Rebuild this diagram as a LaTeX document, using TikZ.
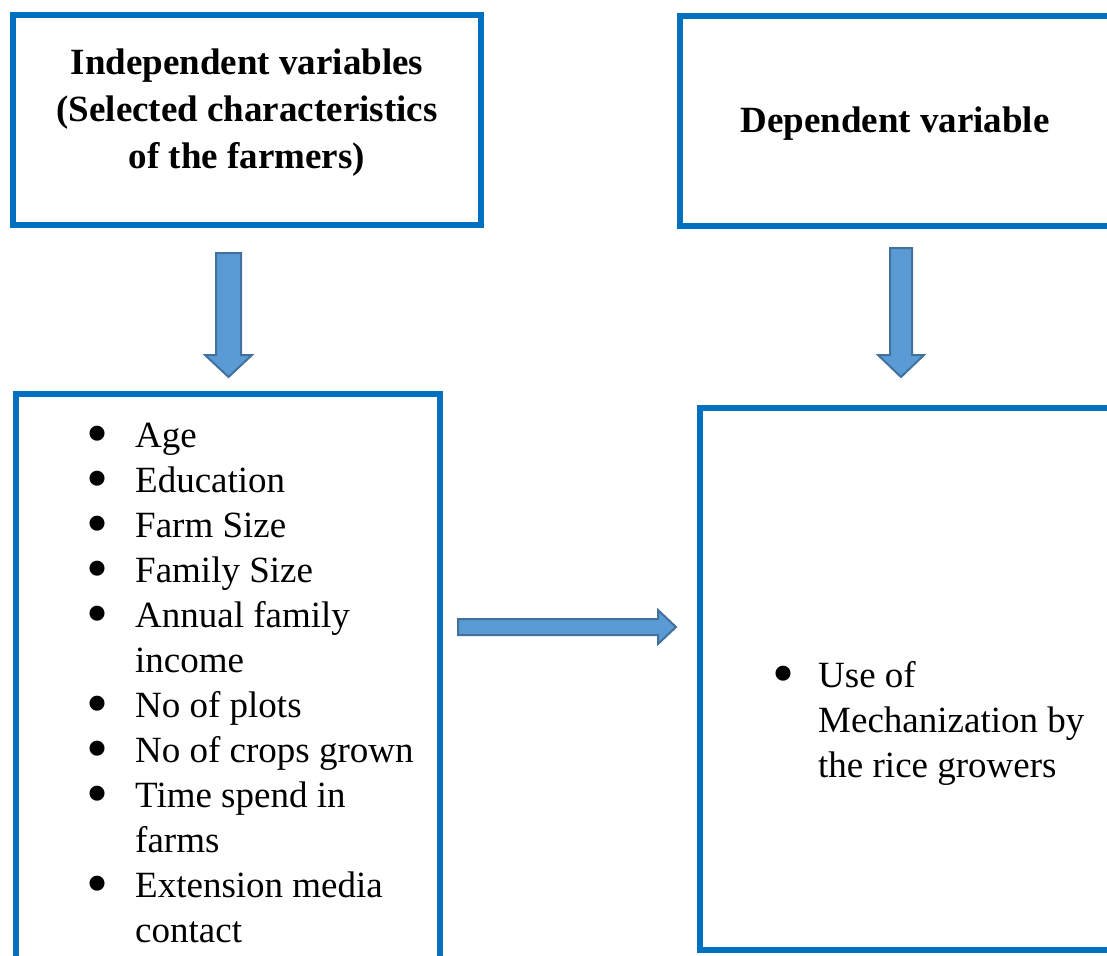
\documentclass[tikz,border=0pt]{standalone}
\usepackage{fontspec}
\setmainfont{Liberation Serif}
\usepackage{graphicx}
\usetikzlibrary{positioning}
\definecolor{boxblue}{HTML}{0070C0}
\definecolor{arrowfill}{HTML}{5B9BD5}
\definecolor{arrowline}{HTML}{41719C}
\newcommand{\listdot}{\smash{\raisebox{-0.2em}{\scalebox{1.7}{\textbullet}}}}
\begin{document}
\begin{tikzpicture}[x=1pt,y=-1pt,line join=miter,
	varbox/.style={draw=boxblue,line width=6pt,inner sep=0pt},
	headtext/.style={font=\fontsize{37}{47}\selectfont\bfseries,align=center,inner sep=0pt},
	listtext/.style={font=\fontsize{37}{45}\selectfont,inner sep=0pt,anchor=base west},
	blockarrow/.style={fill=arrowfill,draw=arrowline,line width=2pt}]
	\useasboundingbox (0,0) rectangle (1107,955);
	\clip (0,0) rectangle (1107,955);
	\node[varbox,minimum width=468pt,minimum height=210pt] (indep) at (247,120) {};
	\node[varbox,minimum width=430pt,minimum height=210pt] (dep) at (895,121) {};
	\node[varbox,minimum width=424pt,minimum height=591pt] (indeplist) at (228,689.5) {};
	\node[varbox,minimum width=430pt,minimum height=542pt] (deplist) at (915,679) {};
	\node[headtext,anchor=base] (indephead) at (247,168) {Independent variables\\(Selected characteristics\\of the farmers)};
	\node[headtext,anchor=base] (dephead) at (895,132) {Dependent variable};
	\node[listtext] (items) at (86,447) {\begin{tabular}[t]{@{}p{49pt}@{}l@{}}
		\listdot & Age\\
		\listdot & Education\\
		\listdot & Farm Size\\
		\listdot & Family Size\\
		\listdot & Annual family\\
		& income\\
		\listdot & No of plots\\
		\listdot & No of crops grown\\
		\listdot & Time spend in\\
		& farms\\
		\listdot & Extension media\\
		& contact
	\end{tabular}};
	\node[listtext] (use) at (772,687) {\begin{tabular}[t]{@{}p{46pt}@{}l@{}}
		\listdot & Use of\\
		& Mechanization by\\
		& the rice growers
	\end{tabular}};
	\coordinate (a1) at (228.5,253);
	\coordinate (a2) at (901,248);
	\coordinate (a3) at (458,627);
	\draw[blockarrow] (a1) ++(-12.5,0) -- ++(25,0) -- ++(0,102) -- ++(11,0) -- ++(-23.5,22) -- ++(-23.5,-22) -- ++(11,0) -- cycle;
	\draw[blockarrow] (a2) ++(-11,0) -- ++(22,0) -- ++(0,107) -- ++(12,0) -- ++(-23,22) -- ++(-23,-22) -- ++(12,0) -- cycle;
	\draw[blockarrow] (a3) ++(0,-8) -- ++(200,0) -- ++(0,-9) -- ++(18,17) -- ++(-18,17) -- ++(0,-9) -- ++(-200,0) -- cycle;
\end{tikzpicture}
\end{document}
